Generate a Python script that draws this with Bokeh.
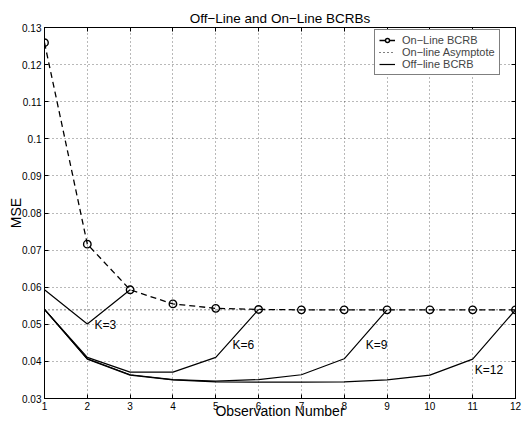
from bokeh.plotting import figure
from bokeh.models import (FixedTicker, LinearAxis, Range1d, Label, Legend, LegendItem)
from bokeh.embed import file_html
from bokeh.resources import INLINE

# ---------------- data ----------------
obs = [1, 2, 3, 4, 5, 6, 7, 8, 9, 10, 11, 12]
online_bcrb = [0.1259, 0.0716, 0.0593, 0.0555, 0.0543, 0.0540,
               0.0539, 0.0539, 0.0539, 0.0539, 0.0539, 0.0539]
asymptote = 0.0539
offline_k3 = [0.0593, 0.0501, 0.0593]
offline_k6 = [0.0540, 0.0411, 0.0371, 0.0371, 0.0411, 0.0540]
offline_k9 = [0.0540, 0.0407, 0.0364, 0.0351, 0.0347, 0.0351, 0.0364, 0.0407, 0.0539]
offline_k12 = [0.0540, 0.0406, 0.0363, 0.0350, 0.0345, 0.0344, 0.0344, 0.0345,
               0.0350, 0.0363, 0.0406, 0.0539]
k_labels = ["K=3", "K=6", "K=9", "K=12"]
k_label_x = [2.17, 5.39, 8.50, 11.05]
k_label_y = [0.0498, 0.0443, 0.0443, 0.0376]
x_ticks = [1, 2, 3, 4, 5, 6, 7, 8, 9, 10, 11, 12]
y_ticks = [0.03, 0.04, 0.05, 0.06, 0.07, 0.08, 0.09, 0.1, 0.11, 0.12, 0.13]
y_tick_labels = ["0.03", "0.04", "0.05", "0.06", "0.07", "0.08", "0.09",
                 "0.1", "0.11", "0.12", "0.13"]
title_text = "Off\u2212Line and On\u2212Line BCRBs"
x_label_text = "Observation Number"
y_label_text = "MSE"
legend_labels = ["On\u2212Line BCRB", "On\u2212line Asymptote", "Off\u2212line BCRB"]

FONT = "Liberation Sans"

p = figure(width=527, height=421, output_backend="svg", toolbar_location=None,
           x_range=Range1d(1, 12), y_range=Range1d(0.03, 0.13),
           min_border_left=44, min_border_right=12, min_border_top=27,
           min_border_bottom=23, title=title_text)
p.background_fill_color = "white"
p.border_fill_color = "white"
p.outline_line_color = "black"

p.title.align = "center"
p.title.text_font = FONT
p.title.text_font_size = "13.5px"
p.title.text_font_style = "normal"
p.title.text_color = "black"
p.title.standoff = 4

# axes styling
for ax in [p.xaxis[0], p.yaxis[0]]:
    ax.major_tick_in = 4
    ax.major_tick_out = 0
    ax.minor_tick_line_color = None
    ax.axis_line_color = "black"
    ax.major_tick_line_color = "black"
    ax.major_label_text_font = FONT
    ax.major_label_text_font_size = "10px"
    ax.major_label_text_color = "black"
    ax.major_label_standoff = 3
    ax.axis_label_text_font = FONT
    ax.axis_label_text_font_size = "14px"
    ax.axis_label_text_font_style = "normal"
    ax.axis_label_text_color = "black"

p.xaxis[0].ticker = FixedTicker(ticks=x_ticks)
p.yaxis[0].ticker = FixedTicker(ticks=y_ticks)
p.yaxis[0].major_label_overrides = {t: l for t, l in zip(y_ticks, y_tick_labels)}
p.xaxis[0].axis_label = x_label_text
p.xaxis[0].axis_label_standoff = -10
p.yaxis[0].axis_label = y_label_text
p.yaxis[0].axis_label_standoff = -5

# top and right axes (ticks only)
top_ax = LinearAxis(ticker=FixedTicker(ticks=x_ticks))
right_ax = LinearAxis(ticker=FixedTicker(ticks=y_ticks))
for ax, ticks in [(top_ax, x_ticks), (right_ax, y_ticks)]:
    ax.major_tick_in = 4
    ax.major_tick_out = 0
    ax.minor_tick_line_color = None
    ax.major_label_text_font_size = "1px"
    ax.major_label_standoff = 0
    ax.major_label_overrides = {t: "" for t in ticks}
p.add_layout(top_ax, "above")
p.add_layout(right_ax, "right")

# grid
for g in [p.xgrid[0], p.ygrid[0]]:
    g.grid_line_color = "black"
    g.grid_line_alpha = 0.55
    g.grid_line_dash = "1 3"
    g.grid_line_width = 1

# on-line asymptote (dotted)
asym_r = p.line(x=[obs[0], obs[-1]], y=[asymptote, asymptote],
                line_color="black", line_width=1, line_dash="1 3")

# off-line curves
off_rs = []
for arr in [offline_k3, offline_k6, offline_k9, offline_k12]:
    r = p.line(x=obs[:len(arr)], y=arr, line_color="black", line_width=1.2)
    off_rs.append(r)

# on-line BCRB (dashed + circles)
on_line = p.line(x=obs, y=online_bcrb, line_color="black", line_width=1.3,
                 line_dash="6 4")
on_pts = p.scatter(x=obs, y=online_bcrb, marker="circle", size=7.5,
                   fill_color=None, line_color="black", line_width=1.4)

# K labels
for t, xx, yy in zip(k_labels, k_label_x, k_label_y):
    p.add_layout(Label(x=xx, y=yy, text=t, text_font=FONT, text_font_size="12px",
                       text_color="black", text_align="left", text_baseline="middle"))

legend = Legend(items=[
    LegendItem(label=legend_labels[0], renderers=[on_line, on_pts]),
    LegendItem(label=legend_labels[1], renderers=[asym_r]),
    LegendItem(label=legend_labels[2], renderers=[off_rs[0]]),
], location=(330, 323))
legend.label_text_font = FONT
legend.label_text_font_size = "11px"
legend.label_height = 10
legend.glyph_height = 10
legend.glyph_width = 16
legend.label_standoff = 7
legend.spacing = 0
legend.padding = 4
legend.margin = 0
legend.border_line_color = "black"
legend.border_line_width = 1
legend.background_fill_color = "white"
legend.background_fill_alpha = 1
p.add_layout(legend)

open("out.html", "w").write(file_html(p, INLINE))
